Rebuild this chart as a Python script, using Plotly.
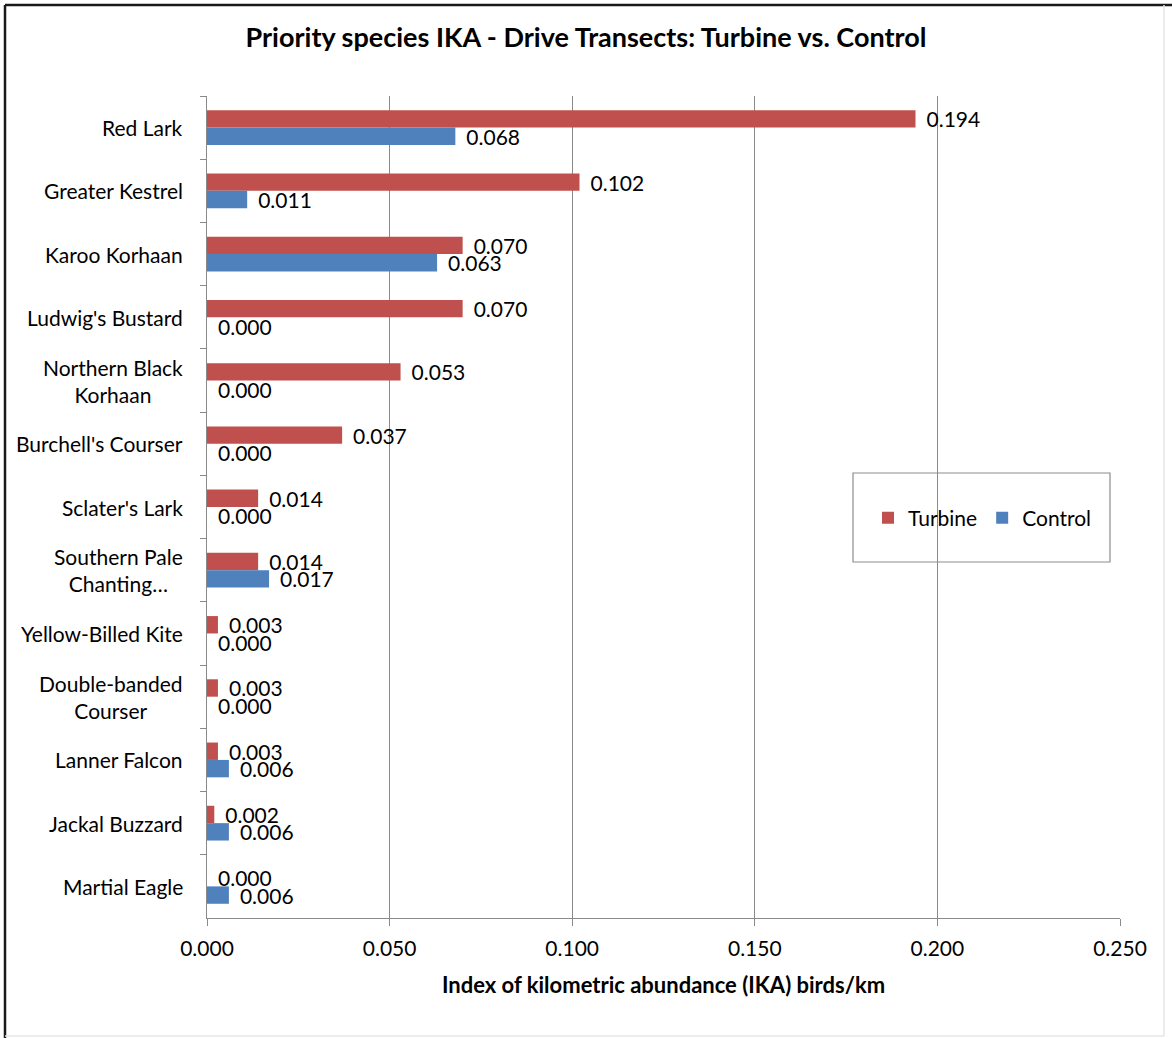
import plotly.graph_objects as go

species = [
    "Red Lark", "Greater Kestrel", "Karoo Korhaan", "Ludwig's Bustard",
    "Northern Black<br>Korhaan", "Burchell's Courser", "Sclater's Lark",
    "Southern Pale<br>Chanting…", "Yellow-Billed Kite", "Double-banded<br>Courser",
    "Lanner Falcon", "Jackal Buzzard", "Martial Eagle",
]
turbine = [0.194, 0.102, 0.070, 0.070, 0.053, 0.037, 0.014, 0.014, 0.003, 0.003, 0.003, 0.002, 0.000]
control = [0.068, 0.011, 0.063, 0.000, 0.000, 0.000, 0.000, 0.017, 0.000, 0.000, 0.006, 0.006, 0.006]
x_ticks = [0.0, 0.05, 0.1, 0.15, 0.2, 0.25]
x_tick_labels = ["0.000", "0.050", "0.100", "0.150", "0.200", "0.250"]

FONT = "Lato"
W, H = 1172, 1038
L, R, T, B = 207, 1120, 96, 918

def px(x):
    return (x - L) / (R - L)

def py(y):
    return (B - y) / (B - T)

fig = go.Figure()
fig.add_trace(go.Bar(
    y=species, x=turbine, orientation="h", name="Turbine",
    marker=dict(color="#C0504D", line=dict(width=0)),
    texttemplate="\u00a0\u2009%{x:.3f}", textposition="outside", constraintext="none",
    textfont=dict(family=FONT, size=21, color="#000000"),
    cliponaxis=False,
))
fig.add_trace(go.Bar(
    y=species, x=control, orientation="h", name="Control",
    marker=dict(color="#4F81BD", line=dict(width=0)),
    texttemplate="\u00a0\u2009%{x:.3f}", textposition="outside", constraintext="none",
    textfont=dict(family=FONT, size=21, color="#000000"),
    cliponaxis=False,
))

shapes = [
    dict(type="line", xref="paper", yref="paper", x0=px(5), x1=px(1172), y0=py(5), y1=py(5),
         line=dict(color="#1a1a1a", width=2.5)),
    dict(type="line", xref="paper", yref="paper", x0=px(5), x1=px(5), y0=py(5), y1=py(1038),
         line=dict(color="#1a1a1a", width=2.5)),
    dict(type="line", xref="paper", yref="paper", x0=px(1164), x1=px(1164), y0=py(5), y1=py(1036),
         line=dict(color="#e6e6e6", width=1.5)),
    dict(type="line", xref="paper", yref="paper", x0=px(5), x1=px(1164), y0=py(1036), y1=py(1036),
         line=dict(color="#e6e6e6", width=1.5)),
    dict(type="rect", xref="paper", yref="paper", x0=px(853), x1=px(1110), y0=py(562), y1=py(473),
         line=dict(color="#8c8c8c", width=1.2), fillcolor="rgba(0,0,0,0)"),
]

annotations = [
    dict(text=s, x=px(185), xref="paper", y=s, yref="y", xanchor="right", yanchor="middle",
         align="center", showarrow=False, font=dict(family=FONT, size=21, color="#000000"))
    for s in species
]

fig.update_layout(
    width=W, height=H,
    margin=dict(l=L, r=W - R, t=T, b=H - B),
    paper_bgcolor="white", plot_bgcolor="white",
    barmode="group", bargap=0.45, bargroupgap=0.0,
    font=dict(family=FONT, size=21, color="#000000"),
    title=dict(text="<b>Priority species IKA - Drive Transects: Turbine vs. Control</b>",
               x=0.5, xref="container", xanchor="center", y=1 - 38 / H, yanchor="middle",
               font=dict(family=FONT, size=27, color="#000000")),
    legend=dict(orientation="h", x=px(868), y=py(518), xanchor="left", yanchor="middle",
                font=dict(family=FONT, size=21), bgcolor="rgba(0,0,0,0)", borderwidth=0,
                traceorder="normal", itemwidth=30),
    shapes=shapes,
    annotations=annotations,
    xaxis=dict(
        range=[0, 0.25], tickvals=x_ticks, ticktext=x_tick_labels,
        showgrid=True, gridcolor="#8a8a8a", gridwidth=1,
        showline=True, linecolor="#8a8a8a", linewidth=1,
        ticks="outside", ticklen=7, tickcolor="#8a8a8a",
        tickfont=dict(family=FONT, size=21), ticklabelstandoff=5,
        zeroline=False,
        title=dict(text="<b>Index of kilometric abundance (IKA) birds/km</b>",
                   font=dict(family=FONT, size=22), standoff=18),
    ),
    yaxis=dict(
        autorange="reversed", type="category",
        showline=True, linecolor="#8a8a8a", linewidth=1,
        ticks="outside", ticklen=6, tickcolor="#8a8a8a", tickson="boundaries",
        showticklabels=False, showgrid=False,
    ),
)

fig.write_html("out.html", config={"displayModeBar": False},
               post_script="document.body.style.margin='0px';")
